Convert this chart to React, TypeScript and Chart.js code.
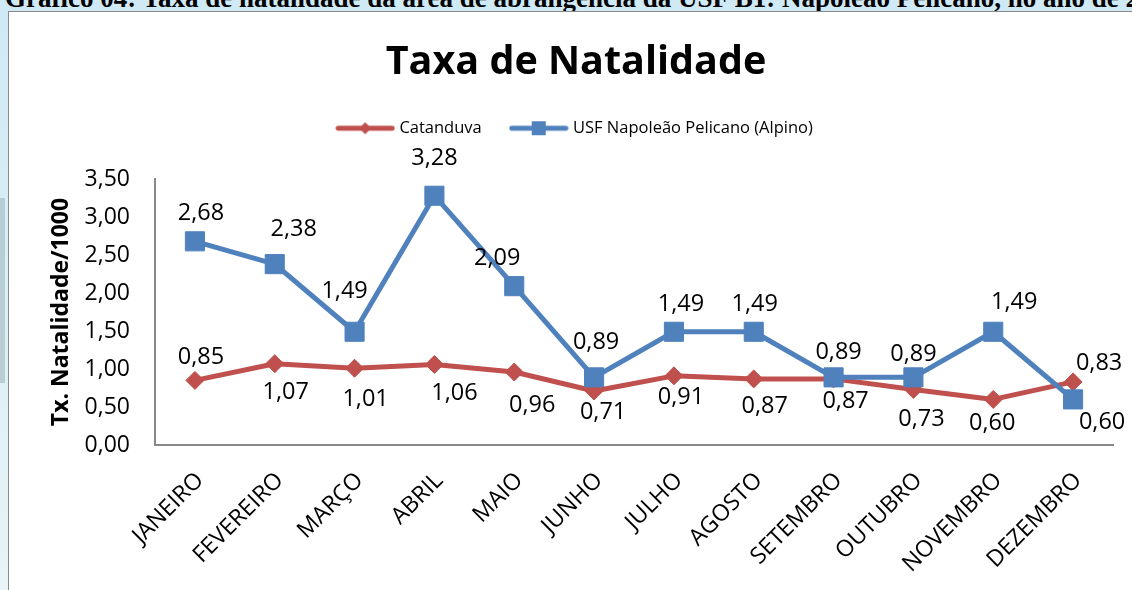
import React, { useEffect, useRef } from "react";
import { Chart, registerables } from "chart.js";

Chart.register(...registerables);

const months = [
  "JANEIRO", "FEVEREIRO", "MARÇO", "ABRIL", "MAIO", "JUNHO",
  "JULHO", "AGOSTO", "SETEMBRO", "OUTUBRO", "NOVEMBRO", "DEZEMBRO",
];
const catanduva = [0.85, 1.07, 1.01, 1.06, 0.96, 0.71, 0.91, 0.87, 0.87, 0.73, 0.6, 0.83];
const usfAlpino = [2.68, 2.38, 1.49, 3.28, 2.09, 0.89, 1.49, 1.49, 0.89, 0.89, 1.49, 0.6];
const yTicks = [0, 0.5, 1, 1.5, 2, 2.5, 3, 3.5];

const seriesNames = ["Catanduva", "USF Napoleão Pelicano (Alpino)"];
const chartTitle = "Taxa de Natalidade";
const yTitle = "Tx. Natalidade/1000";
const captionText =
  "Gráfico 04: Taxa de natalidade da área de abrangência da USF B1: Napoleão Pelicano, no ano de 2014";

// label placement (pixel offsets of each value label from its point)
const redLabelOffsets = [
  [6, -25], [11, 27], [11, 29], [20, 27], [18, 32], [9, 20],
  [7, 20], [11, 26], [12, 21], [8, 28], [-1, 22], [26, -20],
];
const blueLabelOffsets = [
  [6, -30], [19, -37], [-10, -42], [0, -39], [-17, -30], [2, -37],
  [7, -29], [1, -29], [5, -27], [0, -25], [21, -31], [29, 21],
];

const RED = "#C0504D";
const BLUE = "#4F81BD";
const FONT = "Open Sans";
const LABEL_SIZE = 23.5;

const fmt = (v: number) => v.toFixed(2).replace(".", ",");

function makeIcon(color: string, shape: "diamond" | "square") {
  const c = document.createElement("canvas");
  c.width = 60;
  c.height = 20;
  const ctx = c.getContext("2d")!;
  ctx.strokeStyle = color;
  ctx.fillStyle = color;
  ctx.lineWidth = 5;
  ctx.lineCap = "round";
  ctx.beginPath();
  ctx.moveTo(3, 10);
  ctx.lineTo(57, 10);
  ctx.stroke();
  if (shape === "diamond") {
    ctx.beginPath();
    ctx.moveTo(30, 4);
    ctx.lineTo(36, 10);
    ctx.lineTo(30, 16);
    ctx.lineTo(24, 10);
    ctx.closePath();
    ctx.fill();
  } else {
    ctx.fillRect(23, 3, 14, 14);
  }
  return c;
}

const valueLabels = {
  id: "valueLabels",
  afterDatasetsDraw(chart: any) {
    const ctx = chart.ctx;
    ctx.save();
    ctx.font = `${LABEL_SIZE}px "${FONT}"`;
    ctx.fillStyle = "#000";
    ctx.textAlign = "center";
    ctx.textBaseline = "alphabetic";
    const offsets = [redLabelOffsets, blueLabelOffsets];
    chart.data.datasets.forEach((ds: any, di: number) => {
      const meta = chart.getDatasetMeta(di);
      meta.data.forEach((pt: any, i: number) => {
        const [dx, dy] = offsets[di][i];
        ctx.fillText(fmt(ds.data[i]), pt.x + dx, pt.y + dy + LABEL_SIZE * 0.357);
      });
    });
    ctx.restore();
  },
};

export default function App() {
  const ref = useRef<HTMLCanvasElement>(null);

  useEffect(() => {
    if (!ref.current) return;
    Chart.defaults.font.family = FONT;
    const icons = [makeIcon(RED, "diamond"), makeIcon(BLUE, "square")];
    const chart = new Chart(ref.current, {
      type: "line",
      data: {
        labels: months,
        datasets: [
          {
            label: seriesNames[0],
            data: catanduva,
            borderColor: RED,
            backgroundColor: RED,
            borderWidth: 5,
            borderJoinStyle: "round",
            pointStyle: "rectRot",
            pointRadius: 9,
            pointBorderWidth: 1,
            pointBackgroundColor: RED,
            pointBorderColor: RED,
            order: 1,
            tension: 0,
          },
          {
            label: seriesNames[1],
            data: usfAlpino,
            borderColor: BLUE,
            backgroundColor: BLUE,
            borderWidth: 5,
            borderJoinStyle: "round",
            pointStyle: "rect",
            pointRadius: 13.5,
            pointBorderWidth: 1,
            pointBackgroundColor: BLUE,
            pointBorderColor: BLUE,
            order: 0,
            tension: 0,
          },
        ],
      },
      options: {
        responsive: false,
        animation: false,
        events: [],
        layout: { padding: { top: 0, left: 30, right: 32, bottom: 0 } },
        plugins: {
          tooltip: { enabled: false },
          title: {
            display: true,
            text: chartTitle,
            color: "#000",
            font: { family: FONT, size: 39.5, weight: "bold", lineHeight: 1 },
            padding: { top: 30.5, bottom: 7 },
          },
          legend: {
            display: true,
            position: "top",
            labels: {
              usePointStyle: true,
              pointStyleWidth: 52,
              padding: 31,
              color: "#000",
              font: { family: FONT, size: 16.5 },
              generateLabels: (c: any) =>
                c.data.datasets.map((ds: any, i: number) => ({
                  text: ds.label,
                  fillStyle: ds.borderColor,
                  strokeStyle: ds.borderColor,
                  lineWidth: 0,
                  pointStyle: icons[i],
                  hidden: false,
                  datasetIndex: i,
                  fontColor: "#000",
                })),
            },
          },
        },
        scales: {
          x: {
            type: "category",
            offset: true,
            grid: { display: false, drawTicks: false },
            border: { display: true, color: "#888", width: 2 },
            ticks: {
              color: "#000",
              font: { family: FONT, size: 23 },
              maxRotation: 45,
              minRotation: 45,
              autoSkip: false,
              padding: 22,
              labelOffset: 5,
            },
            afterFit: (s: any) => {
              s.height = 147;
            },
          },
          xTop: {
            type: "category",
            position: "top",
            grid: { display: false, drawTicks: false },
            border: { display: false },
            ticks: { display: false },
            afterFit: (s: any) => {
              s.height = 32.5;
            },
          },
          y: {
            min: 0,
            max: 3.5,
            afterBuildTicks: (s: any) => {
              s.ticks = yTicks.map((v) => ({ value: v }));
            },
            grid: { display: false, drawTicks: false },
            border: { display: true, color: "#888", width: 2 },
            ticks: {
              color: "#000",
              font: { family: FONT, size: 23 },
              padding: 25,
              callback: (v: any) => fmt(Number(v)),
            },
            title: {
              display: true,
              text: yTitle,
              color: "#000",
              font: { family: FONT, size: 23, weight: "bold" },
              padding: { top: 9, bottom: 0 },
            },
            afterFit: (s: any) => {
              s.width = 116;
            },
          },
        },
      },
      plugins: [valueLabels],
    });
    return () => chart.destroy();
  }, []);

  return (
    <div
      style={{
        position: "fixed",
        left: 0,
        top: 0,
        width: 1132,
        height: 590,
        overflow: "hidden",
        background: "linear-gradient(#cfe9f5, #e8f4f6)",
      }}
    >
      <div
        style={{
          position: "absolute",
          left: 5,
          top: -12,
          whiteSpace: "nowrap",
          font: 'bold 27px "Liberation Serif"',
          lineHeight: "20px",
          color: "#000",
        }}
      >
        {captionText}
      </div>
      <div
        style={{
          position: "absolute",
          left: 0,
          top: 198,
          width: 5,
          height: 185,
          background: "#b7ced4",
        }}
      />
      <div
        style={{
          position: "absolute",
          left: 8,
          top: 11,
          width: 1200,
          height: 700,
          background: "#fff",
          border: "1px solid #8a8a8a",
        }}
      >
        <canvas ref={ref} width={1136} height={580} style={{ display: "block", width: 1136, height: 580 }} />
      </div>
    </div>
  );
}
